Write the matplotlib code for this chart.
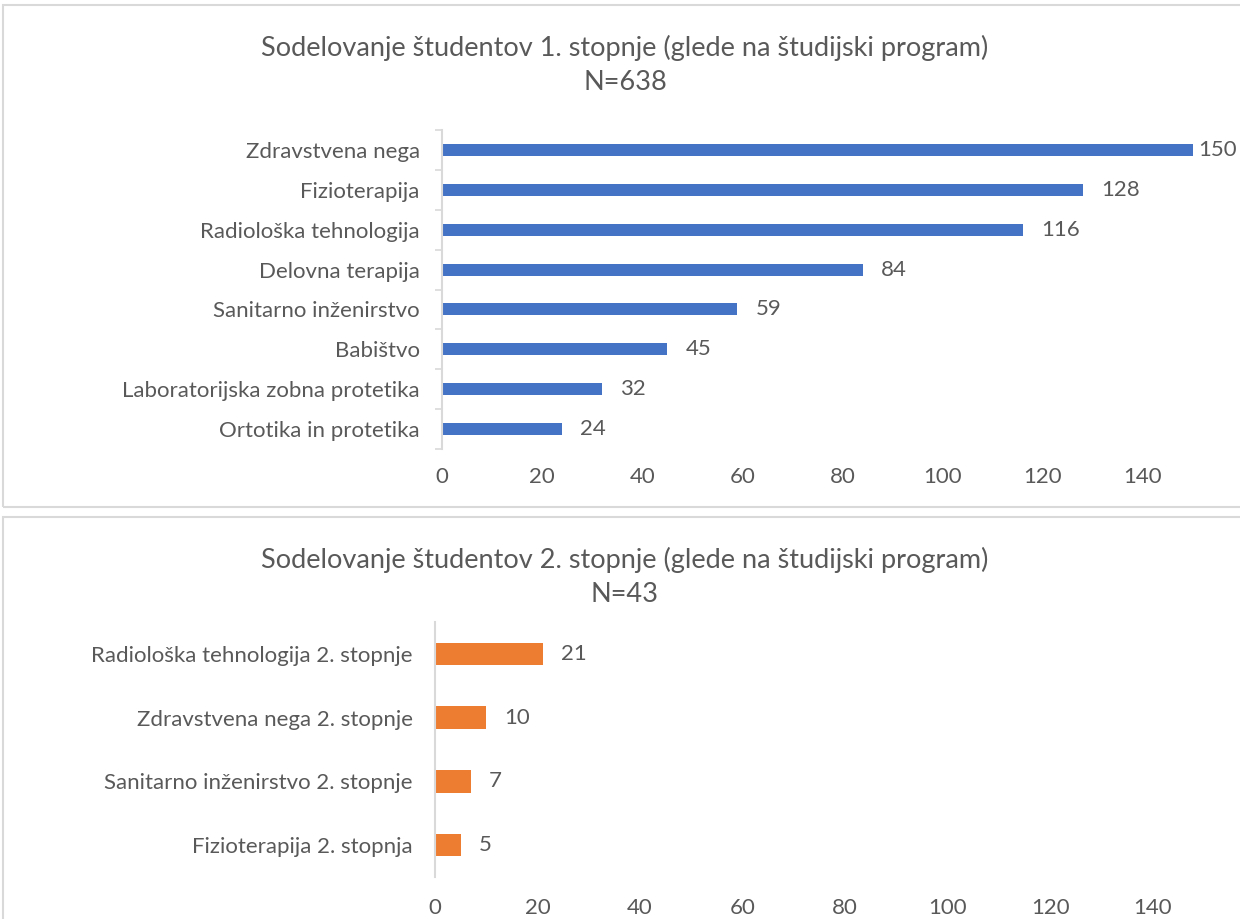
import matplotlib.pyplot as plt
from matplotlib.patches import Rectangle

# data
programs_1 = ["Zdravstvena nega", "Fizioterapija", "Radiološka tehnologija",
              "Delovna terapija", "Sanitarno inženirstvo", "Babištvo",
              "Laboratorijska zobna protetika", "Ortotika in protetika"]
counts_1 = [150, 128, 116, 84, 59, 45, 32, 24]

programs_2 = ["Radiološka tehnologija 2. stopnje", "Zdravstvena nega 2. stopnje",
              "Sanitarno inženirstvo 2. stopnje", "Fizioterapija 2. stopnja"]
counts_2 = [21, 10, 7, 5]

title_1 = "Sodelovanje študentov 1. stopnje (glede na študijski program)\nN=638"
title_2 = "Sodelovanje študentov 2. stopnje (glede na študijski program)\nN=43"
xticks = [0, 20, 40, 60, 80, 100, 120, 140]

TXT = "#595959"
GRID = "#d9d9d9"
FS = 16
plt.rcParams['font.family'] = ['Lato', 'DejaVu Sans']

W, H = 1240, 919
fig = plt.figure(figsize=(W / 100, H / 100), dpi=100)


def fx(px):
    return px / W


def fy(py):
    return 1 - py / H


# panel borders
fig.patches.append(Rectangle((fx(3), fy(507)), fx(1260) - fx(3), fy(5) - fy(507),
                             transform=fig.transFigure, fill=False,
                             edgecolor=GRID, lw=1.5))
fig.patches.append(Rectangle((fx(3), fy(940)), fx(1260) - fx(3), fy(517) - fy(940),
                             transform=fig.transFigure, fill=False,
                             edgecolor=GRID, lw=1.5))


def draw_panel(rect, names, vals, color, height, title, ty, boundary_ticks, xpad):
    ax = fig.add_axes(rect)
    pos = list(range(len(names)))
    ax.barh(pos, vals, height=height, color=color)
    ax.set_xlim(0, 150)
    ax.set_ylim(len(names) - 0.5, -0.5)
    ax.set_yticks(pos)
    ax.set_yticklabels(names, fontsize=FS, color=TXT)
    ax.set_xticks(xticks)
    ax.set_xticklabels([str(t) for t in xticks], fontsize=FS, color=TXT)
    ax.tick_params(axis='x', length=0, pad=xpad)
    ax.tick_params(axis='y', which='major', length=0, pad=16)
    if boundary_ticks:
        ax.set_yticks([p - 0.5 for p in pos] + [len(names) - 0.5], minor=True)
        ax.tick_params(axis='y', which='minor', length=5, color=GRID, width=1.2)
    for s in ['top', 'right', 'bottom']:
        ax.spines[s].set_visible(False)
    ax.spines['left'].set_color(GRID)
    ax.spines['left'].set_linewidth(1.5)
    # data labels, pulled in where the bar reaches the edge
    for p, v in zip(pos, vals):
        off = 13 if v < 145 else 3.5
        ax.annotate(str(v), (v, p), xytext=(off, 0), textcoords='offset points',
                    va='center', ha='left', fontsize=FS, color=TXT,
                    annotation_clip=False)
    fig.text(0.504, ty, title, ha='center', va='top', fontsize=19.5, color=TXT,
             linespacing=1.45)
    return ax


draw_panel([fx(442), fy(449), fx(1193) - fx(442), fy(130) - fy(449)],
           programs_1, counts_1, "#4472C4", 0.3, title_1, fy(35), True, 13)
draw_panel([fx(435), fy(877), fx(1204) - fx(435), fy(622) - fy(877)],
           programs_2, counts_2, "#ED7D31", 0.35, title_2, fy(547), False, 15)

fig.savefig("out.png", dpi=100)
